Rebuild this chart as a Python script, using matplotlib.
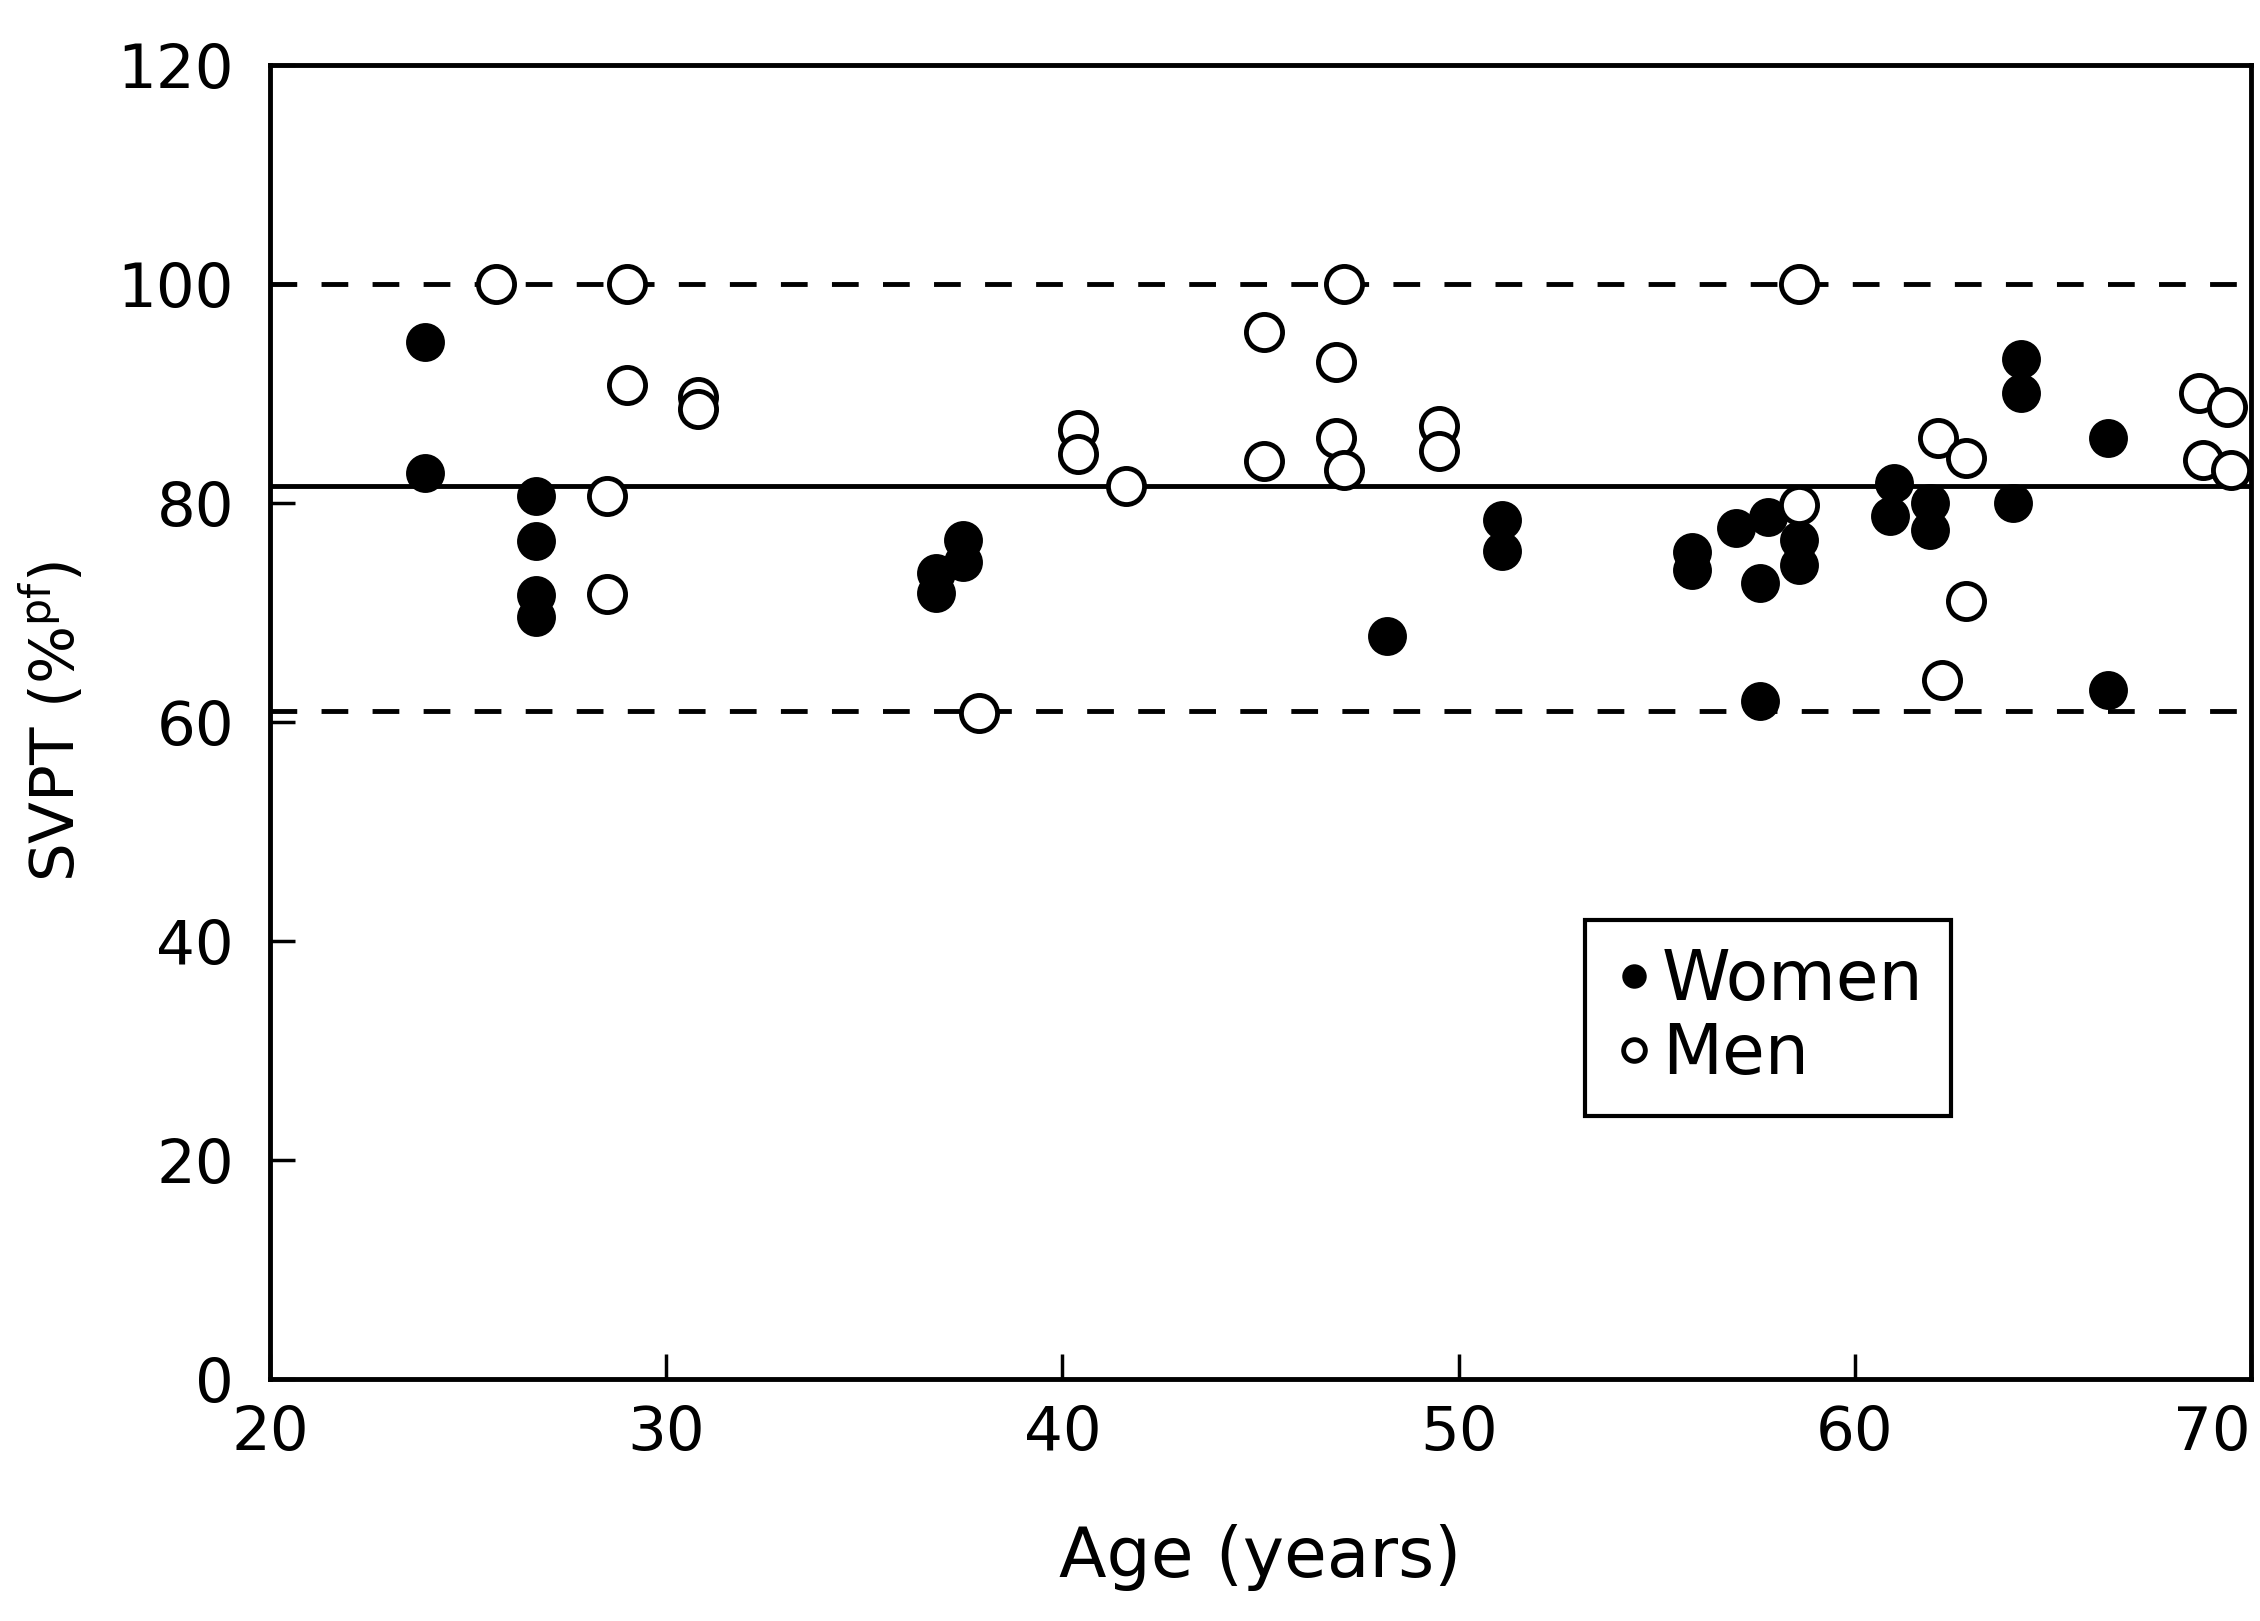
import matplotlib

matplotlib.use('Agg')

import matplotlib.pyplot as plt

# women (filled circles)
women_age = [23.9, 23.9, 26.7, 26.7, 26.7, 26.7, 36.8, 36.8, 37.5, 37.5,
             48.2, 51.1, 51.1, 55.9, 55.9, 57.0, 57.6, 57.6, 57.8, 58.6,
             58.6, 61.0, 60.9, 61.9, 61.9, 64.2, 64.2, 64.0, 66.4, 66.4]
women_svpt = [94.7, 82.7, 80.6, 76.5, 71.6, 69.6, 73.6, 71.8, 76.6, 74.6,
              67.8, 78.4, 75.6, 75.5, 73.9, 77.7, 72.7, 61.9, 78.7, 76.6,
              74.3, 81.8, 78.8, 80.0, 77.5, 93.1, 90.0, 80.0, 85.9, 62.9]

# men (open circles)
men_age = [25.7, 29.0, 29.0, 30.8, 30.8, 28.5, 28.5, 40.4, 40.4, 41.6,
           45.1, 45.1, 37.9, 47.1, 46.9, 46.9, 47.1, 49.5, 49.5, 58.6,
           58.6, 62.1, 62.8, 62.8, 62.2, 68.7, 69.4, 68.8, 69.5]
men_svpt = [100.0, 100.0, 90.8, 89.7, 88.6, 80.6, 71.7, 86.7, 84.5, 81.5,
            95.6, 83.8, 60.8, 100.0, 92.9, 85.9, 83.0, 87.0, 84.7, 100.0,
            79.8, 85.9, 84.1, 71.0, 63.8, 90.0, 88.8, 83.9, 83.0]

mean_svpt = 81.5
upper_limit = 100.0
lower_limit = 61.0

plt.rcParams['font.family'] = ['DejaVu Sans']

fig = plt.figure(figsize=(22.6, 16.21), dpi=100)
ax = fig.add_axes([0.1195, 0.1493, 0.8765, 0.8107])

ax.axhline(mean_svpt, color='k', lw=3.5, zorder=1)
ax.axhline(upper_limit, color='k', lw=3.5, linestyle=(0, (5.5, 5)), zorder=1)
ax.axhline(lower_limit, color='k', lw=3.5, linestyle=(0, (5.5, 5)), zorder=1)

ax.plot(women_age, women_svpt, 'o', color='k', ms=26, mec='k', mew=2,
        linestyle='none', label='Women', zorder=3)
ax.plot(men_age, men_svpt, 'o', mfc='white', mec='k', ms=26, mew=3.5,
        linestyle='none', label='Men', zorder=3)

ax.set_xlim(20, 70)
ax.set_ylim(0, 120)
ax.set_xticks([20, 30, 40, 50, 60, 70])
ax.set_yticks([0, 20, 40, 60, 80, 100, 120])
ax.tick_params(direction='in', length=18, width=2.5, labelsize=44)
ax.tick_params(axis='y', pad=26)
ax.tick_params(axis='x', pad=18)
ax.get_xticklabels()[-1].set_horizontalalignment('right')
for sp in ax.spines.values():
    sp.set_linewidth(3.5)

ax.set_xlabel('Age (years)', fontsize=50, labelpad=44)
ax.set_ylabel('SVPT (%$^{\\mathrm{pf}}$)', fontsize=44, labelpad=22)

leg = ax.legend(loc='lower left', bbox_to_anchor=(0.664, 0.2), fontsize=50,
                frameon=True, fancybox=False, edgecolor='k', framealpha=1,
                markerscale=0.6, handletextpad=0.1, handlelength=0.6,
                borderpad=0.4, labelspacing=0.1, borderaxespad=0)
leg.get_frame().set_linewidth(3)

plt.savefig('out.png', dpi=100)
